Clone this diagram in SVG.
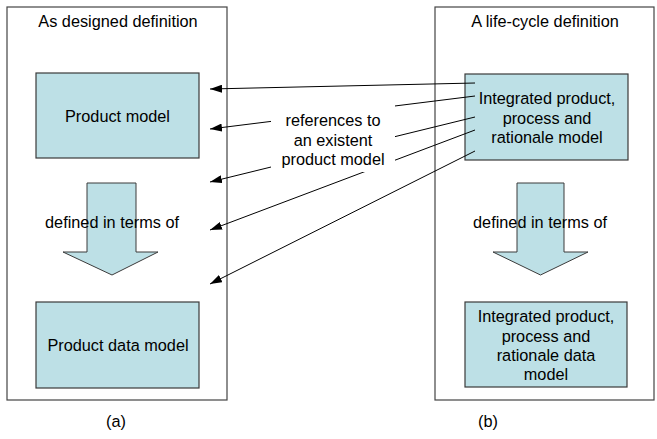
<svg xmlns="http://www.w3.org/2000/svg" width="657" height="439" viewBox="0 0 657 439">
  <style>
    text { font-family: "Liberation Sans", Arial, sans-serif; font-size: 16.3px; fill: #000; text-anchor: middle; }
    .panel { fill: #fff; stroke: #444; stroke-width: 1.2; }
    .box { fill: #BDE0E6; stroke: #3a3a3a; stroke-width: 1.2; }
    .bigarrow { fill: #BDE0E6; stroke: #3a3a3a; stroke-width: 1; }
    .conn { stroke: #000; stroke-width: 1; fill: none; marker-end: url(#ah); }
  </style>
  <defs>
    <marker id="ah" viewBox="0 0 12 8" refX="12" refY="4" markerWidth="12" markerHeight="8" markerUnits="userSpaceOnUse" orient="auto">
      <path d="M0,0 L12,4 L0,8 Z" fill="#000"/>
    </marker>
  </defs>

  <g id="panel-a">
    <rect class="panel" x="7" y="7" width="220" height="393"/>
    <text x="118" y="27">As designed definition</text>
  </g>
  <g id="panel-b">
    <rect class="panel" x="435" y="7" width="219" height="393"/>
    <text x="545" y="27">A life-cycle definition</text>
  </g>

  <g id="product-model">
    <rect class="box" x="36" y="73" width="163" height="85"/>
    <text x="117.5" y="122">Product model</text>
  </g>
  <g id="arrow-a">
    <path class="bigarrow" d="M87,183 H136 V252 H158 L112,275 L63,252 H87 Z"/>
    <text x="112" y="228">defined in terms of</text>
  </g>
  <g id="product-data-model">
    <rect class="box" x="36" y="302" width="163" height="86"/>
    <text x="118" y="351">Product data model</text>
  </g>

  <g id="integrated-model">
    <rect class="box" x="465" y="74" width="163" height="86"/>
    <text x="547" y="104">Integrated product,</text>
    <text x="547" y="124">process and</text>
    <text x="547" y="143">rationale model</text>
  </g>
  <g id="arrow-b">
    <path class="bigarrow" d="M517,183 H564 V252 H588 L540.5,275 L493,252 H517 Z"/>
    <text x="540" y="228">defined in terms of</text>
  </g>
  <g id="integrated-data-model">
    <rect class="box" x="465" y="302" width="162" height="85"/>
    <text x="546" y="322">Integrated product,</text>
    <text x="546" y="342">process and</text>
    <text x="546" y="361">rationale data</text>
    <text x="546" y="380">model</text>
  </g>

  <g id="connectors">
    <line class="conn" x1="475" y1="83" x2="210" y2="89"/>
    <line class="conn" x1="475" y1="96" x2="210" y2="129"/>
    <line class="conn" x1="475" y1="117" x2="210" y2="182"/>
    <line class="conn" x1="475" y1="130" x2="210" y2="230"/>
    <line class="conn" x1="475" y1="151" x2="210" y2="284"/>
  </g>

  <g id="label-references">
    <rect x="271" y="100" width="124" height="72" fill="#fff"/>
    <text x="333" y="126">references to</text>
    <text x="333" y="146">an existent</text>
    <text x="333" y="165">product model</text>
  </g>

  <g id="captions">
    <text x="116" y="427">(a)</text>
    <text x="488" y="427">(b)</text>
  </g>
</svg>
